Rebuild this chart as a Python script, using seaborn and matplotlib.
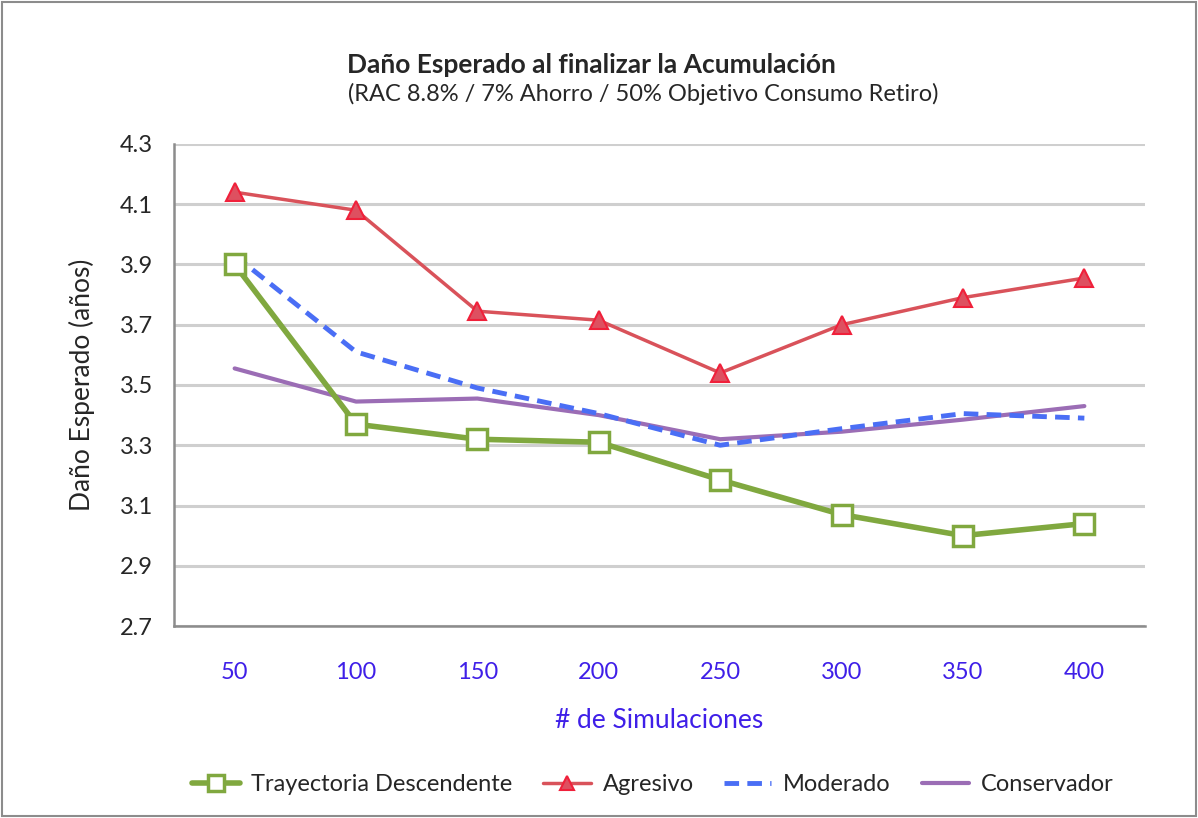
import numpy as np
import pandas as pd
import matplotlib.pyplot as plt
import seaborn as sns
from matplotlib.patches import Rectangle

simulaciones = ["50", "100", "150", "200", "250", "300", "350", "400"]
trayectoria = [3.90, 3.37, 3.32, 3.31, 3.185, 3.07, 3.00, 3.04]
agresivo = [4.14, 4.08, 3.745, 3.715, 3.54, 3.70, 3.79, 3.855]
moderado = [3.93, 3.61, 3.49, 3.405, 3.30, 3.355, 3.405, 3.39]
conservador = [3.555, 3.445, 3.455, 3.40, 3.32, 3.345, 3.385, 3.43]
yticks = [2.7, 2.9, 3.1, 3.3, 3.5, 3.7, 3.9, 4.1, 4.3]

sns.set_style("white")
plt.rcParams['font.family'] = ['Lato', 'DejaVu Sans']

df = pd.DataFrame({
    "x": np.arange(len(simulaciones)),
    "Trayectoria Descendente": trayectoria,
    "Agresivo": agresivo,
    "Moderado": moderado,
    "Conservador": conservador,
})

fig = plt.figure(figsize=(11.98, 8.18), dpi=100)
ax = fig.add_axes([0.1452, 0.2347, 0.8106, 0.5893])

for y in yticks:
    ax.axhline(y, color="#CFCFCF", lw=2.2, zorder=0)

sns.lineplot(data=df, x="x", y="Conservador", ax=ax, color="#9B6DB5", lw=3,
             label="Conservador", sort=False, zorder=2)
sns.lineplot(data=df, x="x", y="Moderado", ax=ax, color="#4A6EF5", lw=3.5,
             label="Moderado", sort=False, zorder=3)
ax.lines[-1].set_dashes([3, 1.7])
sns.lineplot(data=df, x="x", y="Agresivo", ax=ax, color="#D9525A", lw=2.5,
             marker="^", markersize=13, markerfacecolor="#DE5060",
             markeredgecolor="#F0203A", markeredgewidth=1.5,
             label="Agresivo", sort=False, zorder=4)
sns.lineplot(data=df, x="x", y="Trayectoria Descendente", ax=ax, color="#80A83F", lw=4,
             marker="s", markersize=14, markerfacecolor="white",
             markeredgecolor="#80A83F", markeredgewidth=2.5,
             label="Trayectoria Descendente", sort=False, zorder=5)

ax.set_xlim(-0.5, len(simulaciones) - 0.5)
ax.set_ylim(2.7, 4.3)
ax.set_yticks(yticks)
ax.set_yticklabels([f"{v:.1f}" for v in yticks], fontsize=17)
ax.set_xticks(np.arange(len(simulaciones)))
ax.set_xticklabels(simulaciones, fontsize=17, color="#3F1FE8")
ax.tick_params(axis="x", length=0, pad=26)
ax.set_xticks(np.arange(len(simulaciones) + 1) - 0.5, minor=True)
ax.tick_params(axis="x", which="minor", length=7, width=1.5, color="#8C8C8C", direction="out")
ax.tick_params(axis="y", length=7, width=1.5, color="#8C8C8C", direction="out", pad=8)
for s in ["top", "right"]:
    ax.spines[s].set_visible(False)
for s in ["left", "bottom"]:
    ax.spines[s].set_color("#8C8C8C")
    ax.spines[s].set_linewidth(1.8)

ax.set_xlabel("# de Simulaciones", fontsize=19, color="#3F1FE8", labelpad=18)
ax.set_ylabel("Daño Esperado (años)", fontsize=19, labelpad=18)

handles, labels = ax.get_legend_handles_labels()
order = [3, 2, 1, 0]
ax.legend([handles[i] for i in order], [labels[i] for i in order],
          loc="center", bbox_to_anchor=(0.545, 0.041), bbox_transform=fig.transFigure,
          ncol=4, frameon=False, fontsize=17, handlelength=2.0, columnspacing=1.3,
          handletextpad=0.5, markerscale=0.8)

fig.text(0.494, 0.911, "Daño Esperado al finalizar la Acumulación", ha="center",
         fontsize=19, fontweight="bold")
fig.text(0.537, 0.877, "(RAC 8.8% / 7% Ahorro / 50% Objetivo Consumo Retiro)", ha="center",
         fontsize=17)

fig.patches.append(Rectangle((0.002, 0.003), 0.996, 0.994, transform=fig.transFigure,
                             fill=False, edgecolor="#8C8C8C", lw=1.5))

fig.savefig("out.png", dpi=100)
